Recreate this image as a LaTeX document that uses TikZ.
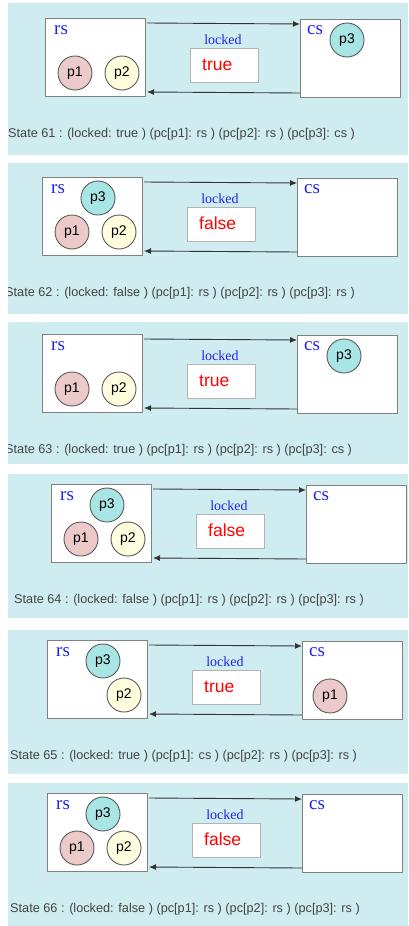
\documentclass[tikz,border=0pt]{standalone}
\usepackage{fontspec}
\setmainfont{Liberation Sans}
\newfontfamily\tmsfont{Liberation Serif}
\usetikzlibrary{arrows.meta}
\definecolor{bgcyan}{RGB}{207,236,240}
\definecolor{boxgray}{RGB}{128,128,128}
\definecolor{lblue}{RGB}{34,34,238}
\definecolor{pone}{RGB}{236,202,202}
\definecolor{ptwo}{RGB}{255,253,221}
\definecolor{pthree}{RGB}{168,230,230}
\definecolor{txtgray}{RGB}{68,68,68}
\tikzset{
  place/.style={draw=boxgray, fill=white, line width=1pt, minimum width=100pt, minimum height=78pt, inner sep=0pt, outer sep=0pt},
  valbox/.style={draw=boxgray!60, fill=white, line width=1pt, minimum width=68pt, minimum height=34pt, inner sep=0pt, outer sep=0pt},
  proc/.style={circle, draw=black!65, line width=0.9pt, minimum size=34pt, inner sep=0pt, font=\fontsize{14}{16}\selectfont},
  placelbl/.style={text=lblue, inner sep=0pt, font=\tmsfont\fontsize{19}{21}\selectfont},
  varlbl/.style={text=lblue, inner sep=0pt, font=\tmsfont\fontsize{14}{16}\selectfont},
  vallbl/.style={text=red, inner sep=0pt, font=\fontsize{17.5}{20}\selectfont},
  statetxt/.style={text=txtgray, inner sep=0pt, font=\fontsize{12.7}{15}\selectfont},
  move/.style={->, draw=black!80, line width=0.9pt}
}
\begin{document}
\begin{tikzpicture}[x=1pt, y=-1pt, >={Latex[length=7pt,width=6pt]}, line join=round]
\useasboundingbox (0,0) rectangle (408,926);
% one panel per state: number / box corner / background / value / p1 and p3 places
\foreach \n/\xo/\yo/\bt/\bb/\val/\ax/\ay/\cx/\cy/\sa/\sc in {
    61/45/18/3/155/true/30/55/302/22/rs/cs,
    62/42/177/163/314/false/30/55/56/21/rs/rs,
    63/42/334/322/464/true/30/55/302/22/rs/cs,
    64/51/484/474/618/false/30/55/56/21/rs/rs,
    65/47/640/630/774/true/283/56/56/21/cs/rs,
    66/47/793/783/926/false/30/55/56/21/rs/rs}
{
  \begin{scope}
    \clip (8,\bt) rectangle (408,\bb);
    \fill[bgcyan] (8,\bt) rectangle (408,\bb);
    \node[place, anchor=north west] (rs\n) at (\xo,\yo) {};
    \node[place, anchor=north west] (cs\n) at ([shift={(255,1)}]rs\n.north west) {};
    \node[placelbl, anchor=base west] (rsl\n) at ([shift={(9,16)}]rs\n.north west) {rs};
    \node[placelbl, anchor=base west] (csl\n) at ([shift={(7,15)}]cs\n.north west) {cs};
    \draw[move] ([shift={(2,5)}]rs\n.north east) -- ([shift={(0,5)}]cs\n.north west);
    \draw[move] ([shift={(0,-4)}]cs\n.south west) -- ([shift={(2,-4)}]rs\n.south east);
    \node[varlbl, anchor=base] (lk\n) at ([shift={(178,26)}]rs\n.north west) {locked};
    \node[valbox, anchor=north west] (vb\n) at ([shift={(145,30)}]rs\n.north west) {};
    \node[vallbl, anchor=base west] (v\n) at ([shift={(12,22)}]vb\n.north west) {\val};
    \node[proc, fill=pone] (pa\n) at ([shift={(\ax,\ay)}]rs\n.north west) {p1};
    \node[proc, fill=ptwo] (pb\n) at ([shift={(77,55)}]rs\n.north west) {p2};
    \node[proc, fill=pthree] (pc\n) at ([shift={(\cx,\cy)}]rs\n.north west) {p3};
    \node[statetxt, anchor=base west] (st\n) at ([shift={(-37,119)}]rs\n.north west)
      {State \n{} : (locked: \val{} ) (pc[p1]: \sa{} ) (pc[p2]: rs ) (pc[p3]: \sc{} )};
  \end{scope}
}
\end{tikzpicture}
\end{document}
